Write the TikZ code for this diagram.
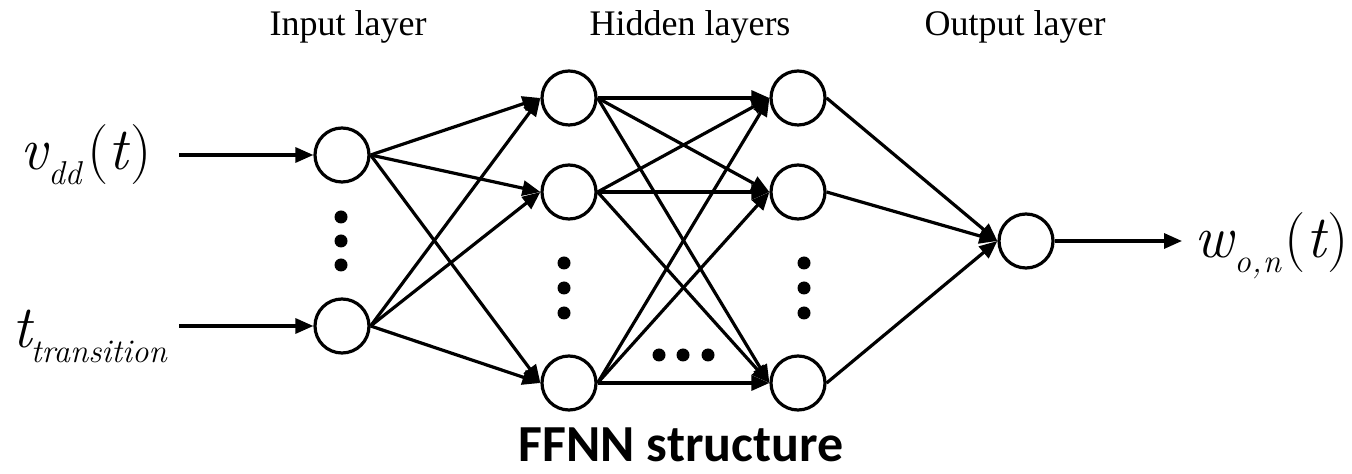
\documentclass[tikz,border=0pt]{standalone}
\usepackage{fontspec}
\setmainfont{Liberation Serif}
\newfontfamily\titlefont{Carlito}
\newcommand{\varfont}{\fontfamily{lmr}\selectfont\itshape}
\usetikzlibrary{arrows.meta}
\tikzset{
  neuron/.style={circle,draw,line width=1.6pt,minimum size=27pt,inner sep=0pt},
  link/.style={line width=1.6pt,-{Triangle[length=9pt,width=7.5pt]}},
  dotmark/.style={circle,fill,inner sep=0pt,minimum size=6.5pt},
  header/.style={anchor=base,font=\fontsize{18}{20}\selectfont},
  sig/.style={anchor=base west,inner sep=0pt,font=\fontsize{30}{30}\selectfont\varfont},
}
\newcommand{\subtxt}[1]{\raisebox{-7.5pt}{\fontsize{16.5}{18}\selectfont\varfont #1}}
\begin{document}
\begin{tikzpicture}[x=0.5pt,y=-0.5pt]
\path[use as bounding box] (0,0) rectangle (1352,474);

% layer headings
\node[header] (hin)  at (348,36)  {Input layer};
\node[header] (hhid) at (690,36)  {Hidden layers};
\node[header] (hout) at (1015,36) {Output layer};

% neurons
\node[neuron] (i1) at (342,155) {};
\node[neuron] (i2) at (342,326) {};
\node[neuron] (a1) at (569,98)  {};
\node[neuron] (a2) at (569,192) {};
\node[neuron] (a3) at (569,383) {};
\node[neuron] (b1) at (798,98)  {};
\node[neuron] (b2) at (798,192) {};
\node[neuron] (b3) at (798,383) {};
\node[neuron] (o)  at (1026,241) {};

% ellipsis dots
\foreach \y [count=\k] in {217,241,265} \node[dotmark] (di\k) at (341,\y) {};
\foreach \y [count=\k] in {263,288,313} \node[dotmark] (da\k) at (564,\y) {};
\foreach \y [count=\k] in {263,288,313} \node[dotmark] (db\k) at (804,\y) {};
\foreach \x [count=\k] in {659,683,708} \node[dotmark] (dh\k) at (\x,355) {};

% input and output signals
\coordinate (s1) at (179,155);
\coordinate (s2) at (179,326);
\coordinate (s3) at (1182,241);
\draw[link] (s1) -- (i1.west);
\draw[link] (s2) -- (i2.west);
\draw[link] (o.east) -- (s3);

% fully connected layers
\foreach \u in {i1,i2}
  \foreach \v in {a1,a2,a3}
    \draw[link] (\u.east) -- (\v.west);
\foreach \u in {a1,a2,a3}
  \foreach \v in {b1,b2,b3}
    \draw[link] (\u.east) -- (\v.west);
\foreach \u in {b1,b2,b3}
  \draw[link] (\u.east) -- (o.west);

% signal labels
\node[sig] (lv) at (20,170) {v\kern0.5pt\subtxt{dd}\kern3pt\upshape(\itshape t\kern1pt\upshape)};
\node[sig] (lt) at (12,348) {t\kern-0.5pt\subtxt{transition}};
\node[sig] (lw) at (1194,258) {w\kern0.5pt\subtxt{o\kern0.5pt,\kern0.5pt n}\kern2pt\upshape(\itshape t\kern1pt\upshape)};

% caption
\node[anchor=base,inner sep=0pt,font=\titlefont\bfseries\fontsize{26}{28}\selectfont] (cap) at (681,462) {FFNN structure};
\end{tikzpicture}
\end{document}
